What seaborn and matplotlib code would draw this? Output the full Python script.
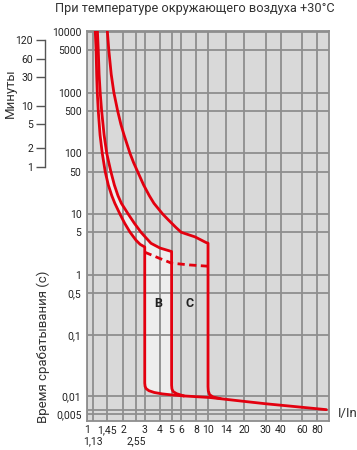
import matplotlib
matplotlib.use("Agg")
import matplotlib.pyplot as plt
import matplotlib.ticker as mticker
import numpy as np
import seaborn as sns

# время-токовые характеристики B и C (I/In, время в секундах)
low_x = [1.17, 1.189, 1.202, 1.216, 1.239, 1.282, 1.337, 1.413, 1.5, 1.603, 1.698, 1.871, 2.051, 2.27, 2.54, 2.75, 3.0,
         3.0, 3.02, 3.08, 3.25, 3.6, 4.2, 5.0, 6.3]
low_t = [10300, 5000, 2000, 1000, 500, 200, 100, 50, 30, 20, 15, 10, 7, 5, 3.7, 3.16, 2.86,
         0.0164, 0.0145, 0.0133, 0.0123, 0.0115, 0.0109, 0.0105, 0.0101]

mid_x = [1.219, 1.239, 1.259, 1.285, 1.321, 1.384, 1.455, 1.574, 1.683, 1.803, 1.923, 2.188, 2.466, 2.793, 3.09,
         3.38, 4.01, 5.0,
         5.0, 5.03, 5.15, 5.5, 6.3]
mid_t = [10300, 5000, 2000, 1000, 500, 200, 100, 50, 30, 20, 15, 10, 7, 5, 4,
         3.29, 2.75, 2.41,
         0.0152, 0.0132, 0.0119, 0.011, 0.0101]

high_x = [1.472, 1.514, 1.585, 1.667, 1.791, 1.905, 2.023, 2.265, 2.427, 2.618, 2.938, 3.273, 3.573, 4.217,
          4.7, 5.43, 6.0, 6.8, 7.8, 9.6, 10.0,
          10.0, 10.05, 10.3, 11.0, 12.7]
high_t = [10300, 5000, 2000, 1000, 500, 300, 200, 100, 70, 50, 30, 20, 15, 10,
          8, 6, 5, 4.6, 4.2, 3.4, 3.3,
          0.0143, 0.0122, 0.0106, 0.0097, 0.0091]

bottom_x = [6.3, 10.4, 20, 30, 50, 95]
bottom_t = [0.0101, 0.0095, 0.0082, 0.0075, 0.0068, 0.006]

dash_x = [3, 4, 5, 7, 10]
dash_t = [2.35, 1.85, 1.55, 1.45, 1.38]

# границы зон мгновенного расцепления
zones = ["B", "C"]
zone_lo = [3, 5]
zone_hi = [5, 10]

x_ticks = [1, 1.45, 2, 3, 4, 5, 6, 8, 10, 14, 20, 30, 40, 60, 80]
x_labels = ["1", "1,45", "2", "3", "4", "5", "6", "8", "10", "14", "20", "30", "40", "60", "80"]
x_extra = [1.13, 2.55]
x_extra_labels = ["1,13", "2,55"]

y_ticks = [0.005, 0.01, 0.1, 0.5, 1, 5, 10, 50, 100, 500, 1000, 5000, 10000]
y_labels = ["0,005", "0,01", "0,1", "0,5", "1", "5", "10", "50", "100", "500", "1000", "5000", "10000"]

min_ticks = [1, 2, 5, 10, 30, 60, 120]

red = "#e3000f"
grid_c = "#8e8e8e"

sns.set_style("white")
plt.rcParams["font.family"] = ["Liberation Sans Narrow", "Roboto", "DejaVu Sans"]

fig = plt.figure(figsize=(3.57, 4.5), dpi=100)
ax = fig.add_axes([0.2437, 0.0644, 0.678, 0.8667])
ax.set_facecolor("#d9d9d9")

# светлая полоса между нижней и средней кривой
ax.fill(low_x + mid_x[::-1], low_t + mid_t[::-1], color="#eeeeee", lw=0, zorder=0.2)

for xs, ts in [(low_x, low_t), (mid_x, mid_t), (high_x, high_t), (bottom_x, bottom_t)]:
    sns.lineplot(x=xs, y=ts, sort=False, estimator=None, color=red, lw=2.0, ax=ax, zorder=3)
sns.lineplot(x=dash_x, y=dash_t, sort=False, estimator=None, color=red, lw=2.0,
             linestyle=(0, (2.6, 1.6)), ax=ax, zorder=3)

ax.set_xscale("log")
ax.set_yscale("log")
ax.set_xlim(1, 100)
ax.set_ylim(0.0039, 10300)

ax.set_xticks(x_ticks)
ax.set_xticklabels(x_labels)
ax.set_xticks(x_extra, minor=True)
ax.set_xticklabels(x_extra_labels, minor=True)
ax.set_yticks(y_ticks)
ax.set_yticklabels(y_labels)
ax.yaxis.set_minor_locator(mticker.FixedLocator([0.006]))
ax.yaxis.set_minor_formatter(mticker.NullFormatter())

ax.tick_params(axis="x", which="major", length=0, pad=3, labelsize=7.5, colors="#222")
ax.tick_params(axis="x", which="minor", length=9, width=1, color="#666", pad=2, labelsize=7.5, labelcolor="#222")
ax.tick_params(axis="y", which="both", length=0, pad=4, labelsize=7.5, colors="#222")

ax.grid(True, which="both", color=grid_c, lw=1.3)
ax.set_axisbelow(True)
for s in ax.spines.values():
    s.set_color(grid_c)
    s.set_linewidth(1.3)

for name, lo, hi in zip(zones, zone_lo, zone_hi):
    ax.text(np.sqrt(lo * hi), 0.34, name, ha="center", va="center",
            fontsize=9, fontweight="bold", color="#222", zorder=4)

# шкала в минутах слева
sec = ax.secondary_yaxis(-0.174, functions=(lambda s: s / 60, lambda m: m * 60))
sec.set_yticks(min_ticks)
sec.set_yticklabels([str(m) for m in min_ticks])
sec.yaxis.set_minor_locator(mticker.NullLocator())
sec.spines["left"].set_bounds(min_ticks[0], min_ticks[-1])
sec.spines["left"].set_color("#555")
sec.spines["left"].set_linewidth(1)
sec.tick_params(length=6.5, width=1, color="#555", pad=2, labelsize=7.5, labelcolor="#222")

fig.text(0.546, 0.981, "При температуре окружающего воздуха +30°C", ha="center", va="center",
         fontsize=9.2, color="#333")
fig.text(0.028, 0.793, "Минуты", rotation=90, ha="center", va="center", fontsize=9.5, color="#333")
fig.text(0.12, 0.23, "Время срабатывания (с)", rotation=90, ha="center", va="center",
         fontsize=9.5, color="#333")
fig.text(0.947, 0.082, "I/In", ha="left", va="center", fontsize=9.5, color="#333")

fig.savefig("out.png", dpi=100)
